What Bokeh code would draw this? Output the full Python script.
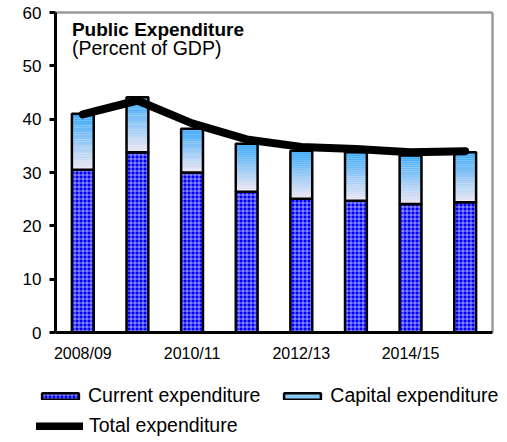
from bokeh.plotting import figure
from bokeh.models import Range1d, FixedTicker, Label, Legend, LegendItem
from bokeh.embed import file_html
from bokeh.resources import INLINE

# ---- data ----
years = ["2008/09", "2009/10", "2010/11", "2011/12", "2012/13", "2013/14", "2014/15", "2015/16"]
current_exp = [30.5, 33.8, 30.0, 26.4, 25.1, 24.7, 24.1, 24.4]
capital_exp = [10.5, 10.3, 8.2, 9.0, 9.0, 9.1, 9.1, 9.4]
total_exp = [40.9, 43.5, 39.2, 36.2, 34.8, 34.4, 33.8, 34.0]
y_ticks = [0, 10, 20, 30, 40, 50, 60]
x_label_years = ["2008/09", "2010/11", "2012/13", "2014/15"]

FONT = "Liberation Sans"
BAR_W = 0.4
W, H = 507, 442
# plot area in pixels (left, right, top, bottom)
PX_L, PX_R, PX_T, PX_B = 55, 492, 12, 332
X0, X1 = -0.5, len(years) - 0.5
Y0, Y1 = 0, 60

sx_scale = (PX_R - PX_L) / (X1 - X0)
sy_scale = (PX_B - PX_T) / (Y1 - Y0)
x_range = Range1d(X0 - PX_L / sx_scale, X1 + (W - PX_R) / sx_scale)
y_range = Range1d(Y0 - (H - PX_B) / sy_scale, Y1 + PX_T / sy_scale)

xs = list(range(len(years)))

p = figure(output_backend="svg", toolbar_location=None,
           x_range=x_range, y_range=y_range, width=W, height=H, min_border=0)
p.grid.visible = False
p.background_fill_color = "white"
p.border_fill_color = "white"
p.outline_line_color = None

# grey top / right frame of the plot area
p.segment(x0=[X0, X1], y0=[Y1, Y1], x1=[X1, X1], y1=[Y1, Y0],
          line_color="#9a9a9a", line_width=2.5)

# current expenditure (hatched blue)
r_cur = p.vbar(x=xs, top=current_exp, bottom=0, width=BAR_W,
               fill_color="#0000ff", hatch_pattern="cross", hatch_color="white",
               hatch_scale=4, hatch_weight=0.6, line_color="black", line_width=2.5)

# capital expenditure: vertical gradient made of slices
c0 = (0xf0, 0xe8, 0xf2)
c1 = (0x38, 0xa8, 0xf8)
N = 24
gx, gtop, gbot, gcol = [], [], [], []
for i in xs:
    base = current_exp[i]
    h = capital_exp[i]
    for s in range(N):
        t = (s + 0.5) / N
        col = tuple(int(round(c0[k] + (c1[k] - c0[k]) * t)) for k in range(3))
        gx.append(i)
        gbot.append(base + h * s / N)
        gtop.append(base + h * (s + 1) / N + 0.02)
        gcol.append("#%02x%02x%02x" % col)
p.vbar(x=gx, top=gtop, bottom=gbot, width=BAR_W, fill_color=gcol, line_color=None)
cap_top = [c + k for c, k in zip(current_exp, capital_exp)]
p.vbar(x=xs, top=cap_top, bottom=current_exp, width=BAR_W,
       fill_color=None, line_color="black", line_width=2.5)
# legend stand-in for capital (not drawn in the plot)
r_cap = p.vbar(x=xs, top=cap_top, bottom=current_exp, width=BAR_W,
               fill_color="#8cc8f5", line_color="black", line_width=2.5, visible=False)

# total expenditure line
r_tot = p.line(x=xs, y=total_exp, line_color="black", line_width=8,
               line_cap="round", line_join="round")

# axes (fixed at the plot-area edges)
p.yaxis.fixed_location = X0
p.yaxis.bounds = (Y0, Y1)
p.yaxis.ticker = FixedTicker(ticks=y_ticks)
p.yaxis.axis_line_width = 3
p.yaxis.axis_line_color = "black"
p.yaxis.major_tick_line_width = 3
p.yaxis.major_tick_out = 6
p.yaxis.major_tick_in = 0
p.yaxis.minor_tick_line_color = None
p.yaxis.major_label_text_font = FONT
p.yaxis.major_label_text_font_size = "17px"
p.yaxis.major_label_text_color = "black"
p.yaxis.major_label_standoff = 8

p.xaxis.fixed_location = Y0
p.xaxis.bounds = (X0, X1)
p.xaxis.ticker = FixedTicker(ticks=[years.index(y) for y in x_label_years])
p.xaxis.major_label_overrides = {years.index(y): y for y in x_label_years}
p.xaxis.axis_line_width = 3
p.xaxis.axis_line_color = "black"
p.xaxis.major_tick_line_color = None
p.xaxis.major_tick_out = 0
p.xaxis.major_tick_in = 0
p.xaxis.minor_tick_line_color = None
p.xaxis.major_label_text_font = FONT
p.xaxis.major_label_text_font_size = "16px"
p.xaxis.major_label_text_color = "black"
p.xaxis.major_label_standoff = 12

# title inside plot
p.add_layout(Label(x=-0.2, y=56.9, text="Public Expenditure", text_font=FONT,
                   text_font_size="19px", text_font_style="bold", text_color="black",
                   text_baseline="alphabetic"))
p.add_layout(Label(x=-0.2, y=53.3, text="(Percent of GDP)", text_font=FONT,
                   text_font_size="19.5px", text_color="black",
                   text_baseline="alphabetic"))

common = dict(border_line_color=None, background_fill_alpha=0, padding=0, margin=0,
              label_text_font=FONT, label_text_font_size="19.5px", label_text_color="black",
              glyph_height=8, label_height=18, inactive_fill_alpha=0)
leg1 = Legend(items=[LegendItem(label="Current expenditure", renderers=[r_cur]),
                     LegendItem(label="Capital expenditure", renderers=[r_cap])],
              orientation="horizontal", location=(37, 35), glyph_width=46,
              label_standoff=5, spacing=19, **common)
leg2 = Legend(items=[LegendItem(label="Total expenditure", renderers=[r_tot])],
              orientation="horizontal", location=(36, 5), glyph_width=47,
              label_standoff=6, spacing=0, **common)
p.add_layout(leg1, "center")
p.add_layout(leg2, "center")

open("out.html", "w").write(file_html(p, INLINE))
